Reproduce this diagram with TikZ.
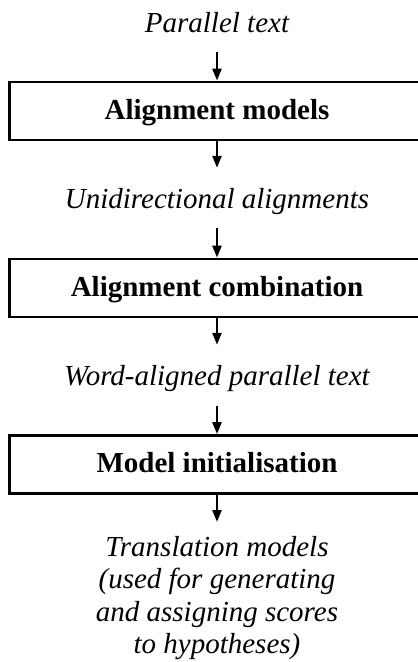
\documentclass[tikz,border=0pt]{standalone}
\usepackage{fontspec}
\setmainfont{Liberation Serif}
\usetikzlibrary{arrows.meta}
\begin{document}
\begin{tikzpicture}[x=1pt,y=-1pt,
  stagebox/.style={draw, line width=2.8pt, minimum width=415pt, minimum height=58pt,
    inner sep=0pt, font=\fontsize{29}{34}\selectfont\bfseries,
    text height=19pt, text depth=3pt},
  datatext/.style={inner sep=0pt, font=\fontsize{29}{34.5}\selectfont\itshape,
    text height=19pt, text depth=0pt},
  resulttext/.style={inner sep=0pt, font=\fontsize{29}{32.5}\selectfont\itshape, align=center},
  flow/.style={line width=2.5pt, -{Triangle[length=12pt,width=9pt]}}]
\useasboundingbox (0,0) rectangle (418,662);
\clip (0,0) rectangle (418,662);

% data and processing stages
\node[datatext, anchor=base] (src) at (217,32) {Parallel text};
\node[stagebox] (align) at (217,111) {Alignment models};
\node[datatext, anchor=base] (uni) at (217,208) {Unidirectional alignments};
\node[stagebox] (comb) at (217,288) {Alignment combination};
\node[datatext, anchor=base] (wal) at (217,385) {Word-aligned parallel text};
\node[stagebox] (init) at (217,464.5) {Model initialisation};
\node[resulttext, anchor=north] (out) at (217,536)
  {Translation models\\(used for generating\\and assigning scores\\to hypotheses)};

% flow arrows
\draw[flow, shorten <=20pt] (src) -- (align);
\draw[flow, shorten >=21pt] (align) -- (uni);
\draw[flow, shorten <=20pt] (uni) -- (comb);
\draw[flow, shorten >=21pt] (comb) -- (wal);
\draw[flow, shorten <=21pt] (wal) -- (init);
\draw[flow, shorten >=14pt] (init) -- (out);
\end{tikzpicture}
\end{document}
